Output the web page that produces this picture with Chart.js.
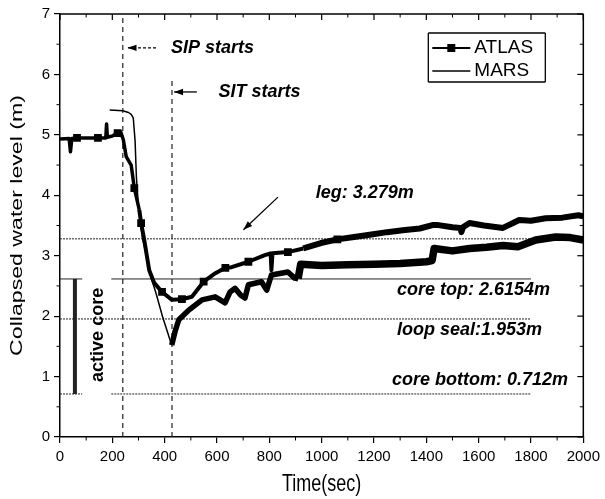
<!DOCTYPE html>
<html>
<head>
<meta charset="utf-8">
<script src="https://cdn.jsdelivr.net/npm/chart.js@4.4.1/dist/chart.umd.min.js"></script>
<style>
  html, body { margin: 0; padding: 0; background: #fff; }
  #wrap { width: 605px; height: 499px; }
</style>
</head>
<body>
<div id="wrap"><canvas id="levelChart"></canvas></div>
<script>
// ATLAS test: collapsed water level (m) vs time (s)
const atlasTime = [0, 35, 40, 45, 65, 145, 175, 178, 181, 200, 220, 232, 242, 253, 272, 284, 303, 310, 322, 341,
  360, 390, 428, 466, 504, 549, 594, 632, 656, 720, 783, 805, 808, 812, 871, 930, 997, 1060, 1124, 1190,
  1250, 1310, 1375, 1427, 1440, 1500, 1530, 1534, 1540, 1565, 1620, 1693, 1755, 1800, 1856, 1920, 1981, 2000];
const atlasLevel = [4.93, 4.94, 4.72, 4.94, 4.95, 4.95, 4.95, 5.18, 4.96, 4.98, 5.03, 5.05, 4.92, 4.64, 4.50, 4.12, 3.76, 3.54, 3.26, 2.76,
  2.55, 2.40, 2.27, 2.28, 2.32, 2.57, 2.71, 2.80, 2.81, 2.90, 3.01, 3.04, 2.76, 3.04, 3.06, 3.12, 3.21, 3.27, 3.31, 3.35,
  3.39, 3.42, 3.45, 3.51, 3.51, 3.47, 3.46, 3.39, 3.47, 3.54, 3.50, 3.46, 3.59, 3.58, 3.62, 3.63, 3.67, 3.65];
// times where the ATLAS square symbol is drawn
const atlasMarkers = [65, 145, 220, 284, 310, 390, 466, 549, 632, 720, 871, 1060];

// MARS calculation
const marsTime = [190, 240, 262, 272, 280, 287, 292, 300, 315, 330, 341, 367, 392, 427, 440, 454, 492, 543, 593, 631,
  650, 669, 690, 707, 720, 770, 790, 808, 871, 897, 910, 920, 1000, 1100, 1200, 1300, 1400, 1422, 1430, 1500,
  1565, 1630, 1693, 1750, 1818, 1894, 1950, 2000];
const marsLevel = [5.41, 5.40, 5.37, 5.34, 5.28, 4.90, 4.30, 3.80, 3.30, 3.00, 2.74, 2.38, 1.99, 1.52, 1.75, 1.94, 2.10, 2.27, 2.32, 2.22,
  2.40, 2.46, 2.35, 2.30, 2.52, 2.57, 2.43, 2.68, 2.73, 2.63, 2.62, 2.86, 2.84, 2.85, 2.86, 2.87, 2.90, 2.92, 3.12, 3.08,
  3.12, 3.14, 3.17, 3.15, 3.26, 3.31, 3.30, 3.26];

// reference elevations (m)
const legLevel = 3.279;
const coreTopLevel = 2.6154;
const loopSealLevel = 1.953;
const coreBottomLevel = 0.712;

// event times (s)
const sipStart = 240;
const sitStart = 428;

const xTicks = [0, 200, 400, 600, 800, 1000, 1200, 1400, 1600, 1800, 2000];
const yTicks = [0, 1, 2, 3, 4, 5, 6, 7];

const toPoints = (xs, ys) => xs.map((x, i) => ({x: x, y: ys[i]}));

const FONT = '"Liberation Sans", Arial, Helvetica, sans-serif';
const NOTE_FONT = 'italic bold 18px ' + FONT;

function line(ctx, x0, y0, x1, y1, width, dash) {
  ctx.save();
  ctx.lineWidth = width;
  ctx.setLineDash(dash || []);
  ctx.beginPath();
  ctx.moveTo(x0, y0);
  ctx.lineTo(x1, y1);
  ctx.stroke();
  ctx.restore();
}

function arrow(ctx, x0, y0, x1, y1, dash) {
  line(ctx, x0, y0, x1, y1, 1.3, dash);
  const a = Math.atan2(y1 - y0, x1 - x0);
  const L = 9, W = 3.2;
  ctx.beginPath();
  ctx.moveTo(x1, y1);
  ctx.lineTo(x1 - L * Math.cos(a) + W * Math.sin(a), y1 - L * Math.sin(a) - W * Math.cos(a));
  ctx.lineTo(x1 - L * Math.cos(a) - W * Math.sin(a), y1 - L * Math.sin(a) + W * Math.cos(a));
  ctx.closePath();
  ctx.fill();
}

const annotations = {
  id: 'annotations',
  beforeDatasetsDraw(chart) {
    const {ctx, chartArea: a, scales: {x, y}} = chart;
    ctx.save();
    ctx.strokeStyle = '#222';
    ctx.fillStyle = '#000';
    // horizontal elevation lines
    line(ctx, a.left, y.getPixelForValue(legLevel), a.right, y.getPixelForValue(legLevel), 1, [2, 1]);
    line(ctx, a.left, y.getPixelForValue(loopSealLevel), x.getPixelForValue(1800), y.getPixelForValue(loopSealLevel), 1, [2, 1]);
    [coreTopLevel, coreBottomLevel].forEach((lv, i) => {
      const py = y.getPixelForValue(lv);
      const dash = i === 0 ? [] : [2, 1];
      line(ctx, a.left, py, x.getPixelForValue(85), py, 1, dash);
      line(ctx, x.getPixelForValue(196), py, x.getPixelForValue(1800), py, 1, dash);
    });
    // active core bar
    const bx = x.getPixelForValue(57);
    line(ctx, bx, y.getPixelForValue(coreTopLevel), bx, y.getPixelForValue(coreBottomLevel), 4);
    // event lines
    line(ctx, x.getPixelForValue(sipStart), a.bottom, x.getPixelForValue(sipStart), a.top, 1.2, [5, 4]);
    line(ctx, x.getPixelForValue(sitStart), a.bottom, x.getPixelForValue(sitStart), y.getPixelForValue(5.95), 1.2, [5, 4]);
    ctx.restore();
  },
  afterDraw(chart) {
    const {ctx, chartArea: a, scales: {x, y}} = chart;
    ctx.save();
    ctx.strokeStyle = '#000';
    ctx.fillStyle = '#000';

    // frame top/right
    line(ctx, a.left, a.top, a.right, a.top, 1.5);
    line(ctx, a.right, a.top, a.right, a.bottom, 1.5);

    // ticks: minor outside on left/bottom, major+minor inside on top/right
    for (let t = 100; t < 2000; t += 200) {
      const px = x.getPixelForValue(t);
      line(ctx, px, a.bottom, px, a.bottom + 3.5, 1);
      line(ctx, px, a.top, px, a.top + 3.5, 1);
    }
    xTicks.forEach(t => {
      const px = x.getPixelForValue(t);
      line(ctx, px, a.top, px, a.top + 6, 1.2);
    });
    for (let v = 0.5; v < 7; v += 1) {
      const py = y.getPixelForValue(v);
      line(ctx, a.left, py, a.left - 3.5, py, 1);
      line(ctx, a.right, py, a.right - 3.5, py, 1);
    }
    yTicks.forEach(v => {
      const py = y.getPixelForValue(v);
      line(ctx, a.right, py, a.right - 6, py, 1.2);
    });

    // legend box
    const lx = a.right - 155, ly = a.top + 19, lw = 117, lh = 49;
    line(ctx, lx, ly, lx + lw, ly, 1.3);
    line(ctx, lx + lw, ly, lx + lw, ly + lh, 1.3);
    line(ctx, lx + lw, ly + lh, lx, ly + lh, 1.3);
    line(ctx, lx, ly + lh, lx, ly, 1.3);
    line(ctx, lx + 4, ly + 15, lx + 42, ly + 15, 2.2);
    ctx.fillRect(lx + 19, ly + 11, 8, 8);
    line(ctx, lx + 4, ly + 38, lx + 42, ly + 38, 1.3);
    ctx.font = '19px ' + FONT;
    ctx.textBaseline = 'middle';
    ctx.textAlign = 'left';
    ctx.fillText(chart.data.datasets[0].label, lx + 46, ly + 15);
    ctx.fillText(chart.data.datasets[1].label, lx + 46, ly + 38);

    // event arrows and notes
    ctx.font = NOTE_FONT;
    arrow(ctx, x.getPixelForValue(367), y.getPixelForValue(6.44), x.getPixelForValue(258), y.getPixelForValue(6.44), [3, 2]);
    ctx.fillText('SIP starts', x.getPixelForValue(424), y.getPixelForValue(6.44));
    arrow(ctx, x.getPixelForValue(523), y.getPixelForValue(5.71), x.getPixelForValue(436), y.getPixelForValue(5.71));
    ctx.fillText('SIT starts', x.getPixelForValue(606), y.getPixelForValue(5.71));
    arrow(ctx, x.getPixelForValue(833), y.getPixelForValue(3.97), x.getPixelForValue(701), y.getPixelForValue(3.43));
    ctx.fillText('leg: ' + legLevel + 'm', x.getPixelForValue(977), y.getPixelForValue(4.04));
    ctx.fillText('core top: ' + coreTopLevel + 'm', x.getPixelForValue(1288), y.getPixelForValue(2.43));
    ctx.fillText('loop seal:' + loopSealLevel + 'm', x.getPixelForValue(1288), y.getPixelForValue(1.77));
    ctx.fillText('core bottom: ' + coreBottomLevel + 'm', x.getPixelForValue(1269), y.getPixelForValue(0.94));

    ctx.save();
    ctx.translate(x.getPixelForValue(144), y.getPixelForValue(1.69));
    ctx.rotate(-Math.PI / 2);
    ctx.font = 'bold 18px ' + FONT;
    ctx.textAlign = 'center';
    ctx.fillText('active core', 0, 0);
    ctx.restore();

    // axis titles (stretched like the rest of the axis lettering)
    ctx.font = '17px ' + FONT;
    ctx.textAlign = 'center';
    ctx.save();
    ctx.translate(17, (a.top + a.bottom) / 2);
    ctx.rotate(-Math.PI / 2);
    ctx.scale(1.36, 1);
    ctx.fillText('Collapsed water level (m)', 0, 0);
    ctx.restore();
    ctx.save();
    ctx.font = '18px ' + FONT;
    ctx.translate((a.left + a.right) / 2, 485);
    ctx.scale(1, 1.3);
    ctx.fillText('Time(sec)', 0, 0);
    ctx.restore();

    ctx.restore();
  }
};

new Chart(document.getElementById('levelChart'), {
  type: 'line',
  data: {
    datasets: [
      {
        label: 'ATLAS',
        data: toPoints(atlasTime, atlasLevel),
        borderColor: '#000',
        backgroundColor: '#000',
        borderWidth: 3.5,
        borderJoinStyle: 'round',
        pointStyle: 'rect',
        pointRadius: (c) => (c.raw && atlasMarkers.includes(c.raw.x) ? 5.5 : 0),
        pointBackgroundColor: '#000',
        pointBorderWidth: 0,
        segment: {
          borderWidth: (c) => (c.p0.parsed.x >= 900 ? 6 : c.p0.parsed.x >= 300 ? 4 : 3.5),
        },
      },
      {
        label: 'MARS',
        data: toPoints(marsTime, marsLevel),
        borderColor: '#000',
        backgroundColor: '#000',
        borderWidth: 1.5,
        borderJoinStyle: 'round',
        pointRadius: 0,
        segment: {
          borderWidth: (c) => (c.p0.parsed.x >= 900 ? 7.5 : c.p0.parsed.x >= 427 ? 5.5 : 1.5),
        },
      },
    ],
  },
  options: {
    responsive: true,
    maintainAspectRatio: false,
    animation: false,
    layout: {padding: {top: 14, right: 17, left: 0, bottom: 0}},
    plugins: {legend: {display: false}, tooltip: {enabled: false}},
    elements: {line: {tension: 0}},
    scales: {
      x: {
        type: 'linear',
        min: 0,
        max: 2000,
        afterFit: (s) => { s.height = 62; },
        afterBuildTicks: (s) => { s.ticks = xTicks.map(v => ({value: v})); },
        ticks: {color: '#000', font: {size: 15, family: FONT}, padding: 5, maxRotation: 0, callback: (v) => String(v)},
        grid: {drawOnChartArea: false, drawTicks: true, tickLength: 6, color: '#000', lineWidth: 1.2},
        border: {color: '#000', width: 1.5},
      },
      y: {
        min: 0,
        max: 7,
        afterFit: (s) => { s.width = 60; },
        afterBuildTicks: (s) => { s.ticks = yTicks.map(v => ({value: v})); },
        ticks: {color: '#000', font: {size: 15, family: FONT}, padding: 4, callback: (v) => String(v)},
        grid: {drawOnChartArea: false, drawTicks: true, tickLength: 6, color: '#000', lineWidth: 1.2},
        border: {color: '#000', width: 1.5},
      },
    },
  },
  plugins: [annotations],
});
</script>
</body>
</html>
